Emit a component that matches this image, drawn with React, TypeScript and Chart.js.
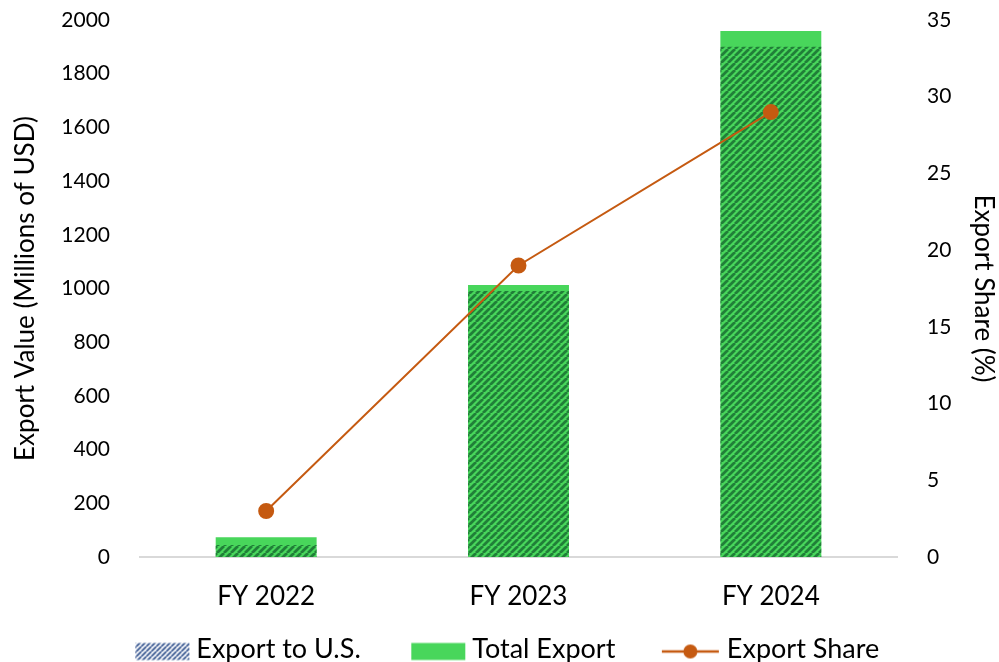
import React, { useEffect, useRef } from "react";
import { Chart, registerables } from "chart.js";

Chart.register(...registerables);

const categories = ["FY 2022", "FY 2023", "FY 2024"];
const exportToUS = [45, 991, 1900];
const totalExport = [74, 1013, 1959];
const exportShare = [3, 19, 29];
const seriesNames = ["Export to U.S.", "Total Export", "Export Share"];

const FONT = "Lato, 'Open Sans', sans-serif";
const GREEN = "#48d65b";
const LINE = "#c55a11";

function makeHatch(stripe: string, bg: string | null, size: number, lw: number) {
  const c = document.createElement("canvas");
  c.width = size;
  c.height = size;
  const ctx = c.getContext("2d")!;
  if (bg) {
    ctx.fillStyle = bg;
    ctx.fillRect(0, 0, size, size);
  }
  ctx.strokeStyle = stripe;
  ctx.lineWidth = lw;
  ctx.beginPath();
  for (let k = -1; k <= 1; k++) {
    ctx.moveTo(k * size, size);
    ctx.lineTo(k * size + size, 0);
  }
  ctx.stroke();
  return c;
}

// legend glyph canvas; the drawing sits in its right part so it lands close to the text
const GLYPH_W = 100;
const GLYPH_X0 = 34;
function legendBox(kind: string) {
  const c = document.createElement("canvas");
  c.width = GLYPH_W;
  c.height = 26;
  const ctx = c.getContext("2d")!;
  const x0 = GLYPH_X0;
  const cy = 15;
  if (kind === "hatch") {
    const p = ctx.createPattern(makeHatch("#35558f", "#ffffff", 5, 1.8), "repeat")!;
    ctx.fillStyle = p;
    ctx.fillRect(x0, cy - 8.5, 54, 17);
  } else if (kind === "green") {
    ctx.fillStyle = GREEN;
    ctx.fillRect(x0, cy - 8.5, 54, 17);
  } else {
    ctx.strokeStyle = LINE;
    ctx.lineWidth = 2.5;
    ctx.beginPath();
    ctx.moveTo(x0 - 4, cy);
    ctx.lineTo(x0 + 53, cy);
    ctx.stroke();
    ctx.fillStyle = LINE;
    ctx.beginPath();
    ctx.arc(x0 + 24.5, cy, 7, 0, Math.PI * 2);
    ctx.fill();
  }
  return c;
}

export default function App() {
  const ref = useRef<HTMLCanvasElement>(null);

  useEffect(() => {
    document.body.style.margin = "0";
    const ctx = ref.current!.getContext("2d")!;
    const hatch = ctx.createPattern(makeHatch("rgba(15,90,42,0.7)", null, 7, 2.8), "repeat")!;
    const boxes = [legendBox("hatch"), legendBox("green"), legendBox("line")];

    const yFit = (w: number) => (scale: any) => {
      scale.width = w;
      scale.paddingTop = 0;
      scale.paddingBottom = 0;
    };

    // let x tick labels draw beyond the (shortened) x-axis box without being clipped
    const unclipX = {
      id: "unclipX",
      afterLayout(c: any) {
        const sx = c.scales.x;
        if (sx) sx.bottom = sx.top + 80;
      },
    };

    const chart = new Chart(ref.current!, {
      type: "bar",
      plugins: [unclipX],
      data: {
        labels: categories,
        datasets: [
          {
            type: "line",
            label: seriesNames[2],
            data: exportShare,
            yAxisID: "y1",
            borderColor: LINE,
            backgroundColor: LINE,
            borderWidth: 2,
            pointRadius: 7,
            pointBackgroundColor: LINE,
            pointBorderColor: LINE,
            order: 0,
          },
          {
            label: seriesNames[0],
            data: exportToUS,
            yAxisID: "y",
            backgroundColor: hatch,
            grouped: false,
            barPercentage: 0.4,
            categoryPercentage: 1,
            order: 1,
          },
          {
            label: seriesNames[1],
            data: totalExport,
            yAxisID: "y",
            backgroundColor: GREEN,
            grouped: false,
            barPercentage: 0.4,
            categoryPercentage: 1,
            order: 2,
          },
        ] as any,
      },
      options: {
        animation: false,
        responsive: false,
        maintainAspectRatio: false,
        layout: { padding: { top: 20, left: 0, right: 0, bottom: -11 } },
        plugins: {
          tooltip: { enabled: false },
          legend: {
            position: "bottom",
            labels: {
              font: { family: FONT, size: 27 },
              color: "#000",
              usePointStyle: true,
              pointStyleWidth: 63,
              boxHeight: 20,
              padding: 35,
              generateLabels: () =>
                [1, 2, 0].map((di, i) => ({
                  text: seriesNames[i],
                  pointStyle: boxes[i] as any,
                  fillStyle: "transparent",
                  strokeStyle: "transparent",
                  lineWidth: 0,
                  hidden: false,
                  datasetIndex: di,
                })),
            },
          },
        },
        scales: {
          x: {
            grid: { display: false, drawTicks: false },
            border: { display: true, color: "#d9d9d9", width: 2 },
            ticks: { font: { family: FONT, size: 26 }, color: "#000", padding: 24 },
            afterFit: (scale: any) => {
              scale.height = 44;
            },
          },
          y: {
            position: "left",
            min: 0,
            max: 2000,
            ticks: {
              stepSize: 200,
              font: { family: FONT, size: 21 },
              color: "#000",
              padding: 30,
              callback: (v: any) => String(v),
            },
            grid: { display: false, drawTicks: false },
            border: { display: false },
            title: {
              display: true,
              text: "Export Value (Millions of USD)",
              font: { family: FONT, size: 26 },
              color: "#000",
              padding: { top: 10, bottom: 0 },
            },
            afterFit: yFit(140),
          },
          y1: {
            position: "right",
            min: 0,
            max: 35,
            ticks: {
              stepSize: 5,
              font: { family: FONT, size: 21 },
              color: "#000",
              padding: 30,
              callback: (v: any) => String(v),
            },
            grid: { display: false, drawTicks: false },
            border: { display: false },
            title: {
              display: true,
              text: "Export Share (%)",
              font: { family: FONT, size: 26 },
              color: "#000",
              padding: { top: 0, bottom: 0 },
            },
            afterFit: yFit(102),
          },
        },
      },
    });
    return () => chart.destroy();
  }, []);

  return (
    <div style={{ width: 999, height: 662 }}>
      <canvas ref={ref} width={999} height={662} style={{ width: 999, height: 662, display: "block" }} />
    </div>
  );
}
